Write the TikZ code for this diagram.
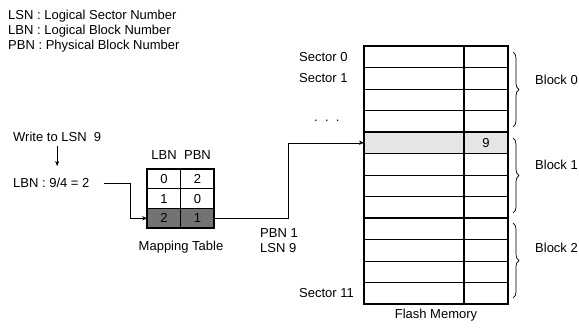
\documentclass[tikz,border=0pt]{standalone}
\usepackage{fontspec}
\setmainfont{Liberation Sans}
\usetikzlibrary{arrows.meta, positioning, decorations.pathreplacing}
\tikzset{
  cell/.style={draw, line width=1pt, minimum width=33.5pt, minimum height=19.7pt, inner sep=0pt, outer sep=0pt},
  darkcell/.style={cell, fill=black!55},
  rowline/.style={line width=0.8pt},
  blockline/.style={line width=2pt},
  lbl/.style={anchor=west, inner sep=0pt},
  blockbrace/.style={decorate, decoration={brace, amplitude=6pt}, line width=0.7pt}
}

\begin{document}
\begin{tikzpicture}[x=1pt, y=-1pt, >={Stealth[length=5pt, width=4pt]}, font=\fontsize{13}{15}\selectfont]
  \useasboundingbox (0,0) rectangle (579,329);
  % legend
  \node[lbl] (lsnkey) at (8,16) {LSN : Logical Sector Number};
  \node[lbl] (lbnkey) at (8,31) {LBN : Logical Block Number};
  \node[lbl] (pbnkey) at (8,46) {PBN : Physical Block Number};
  % request
  \node[lbl] (write) at (13,137) {Write to LSN\ \ 9};
  \node[lbl] (lbn) at (13,183) {LBN : 9/4 = 2};
  \draw[->] ([yshift=-4pt]write.south) -- ([yshift=12pt]write.south |- lbn.north);
  %
  % mapping table
  \node (hlbn) at (164,155) {LBN};
  \node (hpbn) at (197.5,155) {PBN};
  \node[cell] (t00) at (164,178.85) {0};
  \node[cell] (t01) at (197.5,178.85) {2};
  \node[cell] (t10) at (164,198.55) {1};
  \node[cell] (t11) at (197.5,198.55) {0};
  \node[darkcell] (t20) at (164,218.25) {2};
  \node[darkcell] (t21) at (197.5,218.25) {1};
  \draw[blockline] (t00.north west) rectangle (t21.south east);
  \node (maptab) at (181,247) {Mapping Table};
  \coordinate (bend1) at (130,183);
  \draw[->] ([xshift=14pt]lbn.east) -- (bend1) |- (t20.west);
  %
  % flash memory
  \fill[black!10] (364,132) rectangle (508,153.5);
  \node[minimum width=144pt, minimum height=258pt, inner sep=0pt, outer sep=0pt] (flash) at (436,175) {};
  \foreach \i in {1,...,11}
    \draw[rowline] ([yshift=-\i*21.5pt]flash.north west) -- ([yshift=-\i*21.5pt]flash.north east);
  \foreach \i in {4,8}
    \draw[blockline] ([yshift=-\i*21.5pt]flash.north west) -- ([yshift=-\i*21.5pt]flash.north east);
  \draw[blockline] ([xshift=100pt]flash.north west) -- ([xshift=100pt]flash.south west);
  \draw[blockline] (flash.north west) rectangle (flash.south east);
  \node (nine) at (486,142.75) {9};
  \node[lbl] (sec0) at (299,56.75) {Sector 0};
  \node[lbl] (sec1) at (299,78.25) {Sector 1};
  \node[lbl] (dots) at (314,121) {.\ \ .\ \ .};
  \node[lbl] (sec11) at (299,293.25) {Sector 11};
  \node (flashcap) at (436,315) {Flash Memory};
  %
  \coordinate (bend2) at (288,218.25);
  \draw[->] (t21.east) -- (bend2) |- (nine.west -| flash.west);
  \node[lbl, align=left] (target) at (260,240.5) {PBN 1\\LSN 9};
  %
  % blocks
  \draw[blockbrace] (513,52) -- (513,127);
  \draw[blockbrace] (513,138) -- (513,213);
  \draw[blockbrace] (513,223) -- (513,298);
  \node[lbl] (blk0) at (535,80) {Block 0};
  \node[lbl] (blk1) at (535,165) {Block 1};
  \node[lbl] (blk2) at (535,248) {Block 2};
\end{tikzpicture}
\end{document}
